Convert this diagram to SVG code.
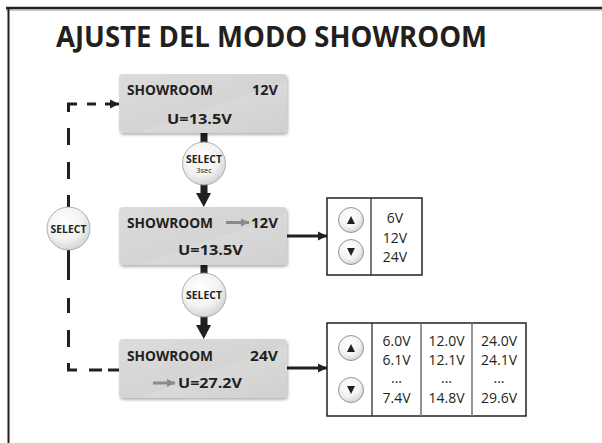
<svg xmlns="http://www.w3.org/2000/svg" width="602" height="443" viewBox="0 0 602 443">
<defs>
<linearGradient id="boxg" x1="0" y1="0" x2="1" y2="1">
<stop offset="0" stop-color="#dcdcdc"/>
<stop offset="0.55" stop-color="#d4d4d4"/>
<stop offset="0.56" stop-color="#d9d9d9"/>
<stop offset="1" stop-color="#d0d0d0"/>
</linearGradient>
<radialGradient id="cg" cx="0.42" cy="0.35" r="0.7">
<stop offset="0" stop-color="#ffffff"/>
<stop offset="0.6" stop-color="#f2f2f2"/>
<stop offset="1" stop-color="#cfcfcf"/>
</radialGradient>
<filter id="sh" x="-10%" y="-10%" width="125%" height="140%">
<feGaussianBlur in="SourceAlpha" stdDeviation="1.5"/>
<feOffset dx="1" dy="2" result="b"/>
<feComponentTransfer><feFuncA type="linear" slope="0.3"/></feComponentTransfer>
<feMerge><feMergeNode/><feMergeNode in="SourceGraphic"/></feMerge>
</filter>
<marker id="ah" markerWidth="10" markerHeight="10" refX="9" refY="5" orient="auto" markerUnits="userSpaceOnUse">
<path d="M0,0.5 L9,5 L0,9.5 Z" fill="#231f20"/>
</marker>
<marker id="gh" markerWidth="9" markerHeight="9" refX="8" refY="4.5" orient="auto" markerUnits="userSpaceOnUse">
<path d="M0,0.5 L8,4.5 L0,8.5 Z" fill="#8a8a8a"/>
</marker>
</defs>
<style>
.t{font-family:"Open Sans","Noto Sans","Liberation Sans",sans-serif;fill:#231f20}
.title{font-size:29px;font-weight:700}
.bx{font-size:14px;font-weight:700}
.v{font-size:14px;font-weight:400}
.sel{font-size:10.5px;font-weight:700}
.sec{font-size:7.5px;font-weight:400}
.box{fill:url(#boxg);filter:url(#sh)}
.circ{fill:url(#cg);stroke:#9a9a9a;stroke-width:0.8}
.btn{fill:url(#cg);stroke:#8a8a8a;stroke-width:0.9}
.tbl{fill:#ffffff;stroke:#231f20;stroke-width:1.5}
.dv{stroke:#231f20;stroke-width:1.2}
.dv2{stroke:#7a7a7a;stroke-width:1.6}
.dash{stroke:#231f20;stroke-width:3;fill:none}
.gar{stroke:#8a8a8a;stroke-width:3;fill:none;marker-end:url(#gh)}
.con{stroke:#231f20;stroke-width:3;fill:none;marker-end:url(#ah)}
</style>

<g id="frame">
<line x1="6" y1="8" x2="602" y2="8" stroke="#231f20" stroke-width="2.5"/>
<line x1="6" y1="10" x2="602" y2="10" stroke="#9a9a9a" stroke-width="1"/>
<line x1="8.5" y1="7" x2="8.5" y2="443" stroke="#231f20" stroke-width="2"/>
</g>

<text class="t title" x="56" y="47" textLength="431" lengthAdjust="spacingAndGlyphs">AJUSTE DEL MODO SHOWROOM</text>

<g id="connectors">
<rect x="200.5" y="133" width="7" height="10" fill="#231f20"/>
<rect x="200.5" y="184" width="7" height="10" fill="#231f20"/>
<polygon points="196,193 211,193 203.8,207" fill="#231f20"/>
<rect x="200.5" y="265" width="7" height="10" fill="#231f20"/>
<rect x="200.5" y="316" width="7" height="10" fill="#231f20"/>
<polygon points="196,325 211,325 203.8,339" fill="#231f20"/>
<line class="con" x1="287" y1="236" x2="327" y2="236"/>
<line class="con" x1="287" y1="368" x2="327" y2="368"/>
<path class="dash" d="M68.5,112 V104 H77"/>
<line class="dash" x1="68.5" y1="128" x2="68.5" y2="145"/>
<line class="dash" x1="68.5" y1="162" x2="68.5" y2="179"/>
<line class="dash" x1="68.5" y1="195" x2="68.5" y2="207"/>
<line class="dash" x1="87" y1="104" x2="96" y2="104"/>
<line class="con" x1="105" y1="104" x2="119" y2="104"/>
<line class="dash" x1="68.5" y1="250" x2="68.5" y2="280"/>
<line class="dash" x1="68.5" y1="298" x2="68.5" y2="313"/>
<line class="dash" x1="68.5" y1="330" x2="68.5" y2="347"/>
<path class="dash" d="M68.5,363 V370 H77"/>
<line class="dash" x1="89" y1="370" x2="102" y2="370"/>
<line class="dash" x1="108" y1="370" x2="119" y2="370"/>
</g>

<g id="box1">
<rect class="box" x="119" y="74" width="168" height="59" rx="4"/>
<text class="t bx" x="127" y="95" textLength="86" lengthAdjust="spacingAndGlyphs">SHOWROOM</text>
<text class="t bx" x="252" y="95" textLength="26" lengthAdjust="spacingAndGlyphs">12V</text>
<text class="t bx" x="167" y="124" textLength="65" lengthAdjust="spacingAndGlyphs">U=13.5V</text>
</g>

<g id="select1">
<circle class="circ" cx="204" cy="163.5" r="21.5"/>
<text class="t sel" x="204" y="163" text-anchor="middle" textLength="36" lengthAdjust="spacingAndGlyphs">SELECT</text>
<text class="t sec" x="204" y="172.5" text-anchor="middle">3sec</text>
</g>

<g id="box2">
<rect class="box" x="119" y="207" width="168" height="58" rx="4"/>
<text class="t bx" x="127" y="228" textLength="86" lengthAdjust="spacingAndGlyphs">SHOWROOM</text>
<line class="gar" x1="226" y1="222.5" x2="249" y2="222.5"/>
<text class="t bx" x="251" y="228" textLength="27" lengthAdjust="spacingAndGlyphs">12V</text>
<text class="t bx" x="178" y="255" textLength="65" lengthAdjust="spacingAndGlyphs">U=13.5V</text>
</g>

<g id="select-left">
<circle class="circ" cx="68.5" cy="228.5" r="21.5"/>
<text class="t sel" x="68.5" y="232.5" text-anchor="middle" textLength="36" lengthAdjust="spacingAndGlyphs">SELECT</text>
</g>

<g id="select2">
<circle class="circ" cx="204" cy="295" r="22"/>
<text class="t sel" x="204" y="299" text-anchor="middle" textLength="36" lengthAdjust="spacingAndGlyphs">SELECT</text>
</g>

<g id="box3">
<rect class="box" x="119" y="339" width="168" height="59" rx="4"/>
<text class="t bx" x="127" y="361" textLength="86" lengthAdjust="spacingAndGlyphs">SHOWROOM</text>
<text class="t bx" x="250" y="361" textLength="28" lengthAdjust="spacingAndGlyphs">24V</text>
<line class="gar" x1="153" y1="383" x2="175" y2="383"/>
<text class="t bx" x="178" y="388" textLength="64" lengthAdjust="spacingAndGlyphs">U=27.2V</text>
</g>

<g id="table1">
<rect class="tbl" x="327" y="198" width="95" height="77"/>
<line class="dv" x1="371" y1="198" x2="371" y2="275"/>
<circle class="btn" cx="351" cy="220" r="12.5"/>
<polygon points="347,224 355,224 351,216" fill="#231f20"/>
<circle class="btn" cx="351" cy="252" r="12.5"/>
<polygon points="347,248 355,248 351,256" fill="#231f20"/>
<text class="t v" x="395" y="223" text-anchor="middle">6V</text>
<text class="t v" x="395" y="243" text-anchor="middle">12V</text>
<text class="t v" x="395" y="262" text-anchor="middle">24V</text>
</g>

<g id="table2">
<rect class="tbl" x="327" y="323" width="199" height="93"/>
<line class="dv" x1="372" y1="323" x2="372" y2="416"/>
<line class="dv2" x1="421" y1="323" x2="421" y2="416"/>
<line class="dv2" x1="472" y1="323" x2="472" y2="416"/>
<circle class="btn" cx="351" cy="348" r="12.5"/>
<polygon points="347,352 355,352 351,344" fill="#231f20"/>
<circle class="btn" cx="351" cy="390" r="12.5"/>
<polygon points="347,386 355,386 351,394" fill="#231f20"/>
<text class="t v" x="396.5" y="346" text-anchor="middle">6.0V</text>
<text class="t v" x="396.5" y="365" text-anchor="middle">6.1V</text>
<text class="t v" x="396.5" y="383" text-anchor="middle">...</text>
<text class="t v" x="396.5" y="403" text-anchor="middle">7.4V</text>
<text class="t v" x="446.5" y="346" text-anchor="middle">12.0V</text>
<text class="t v" x="446.5" y="365" text-anchor="middle">12.1V</text>
<text class="t v" x="446.5" y="383" text-anchor="middle">...</text>
<text class="t v" x="446.5" y="403" text-anchor="middle">14.8V</text>
<text class="t v" x="499" y="346" text-anchor="middle">24.0V</text>
<text class="t v" x="499" y="365" text-anchor="middle">24.1V</text>
<text class="t v" x="499" y="383" text-anchor="middle">...</text>
<text class="t v" x="499" y="403" text-anchor="middle">29.6V</text>
</g>
</svg>
